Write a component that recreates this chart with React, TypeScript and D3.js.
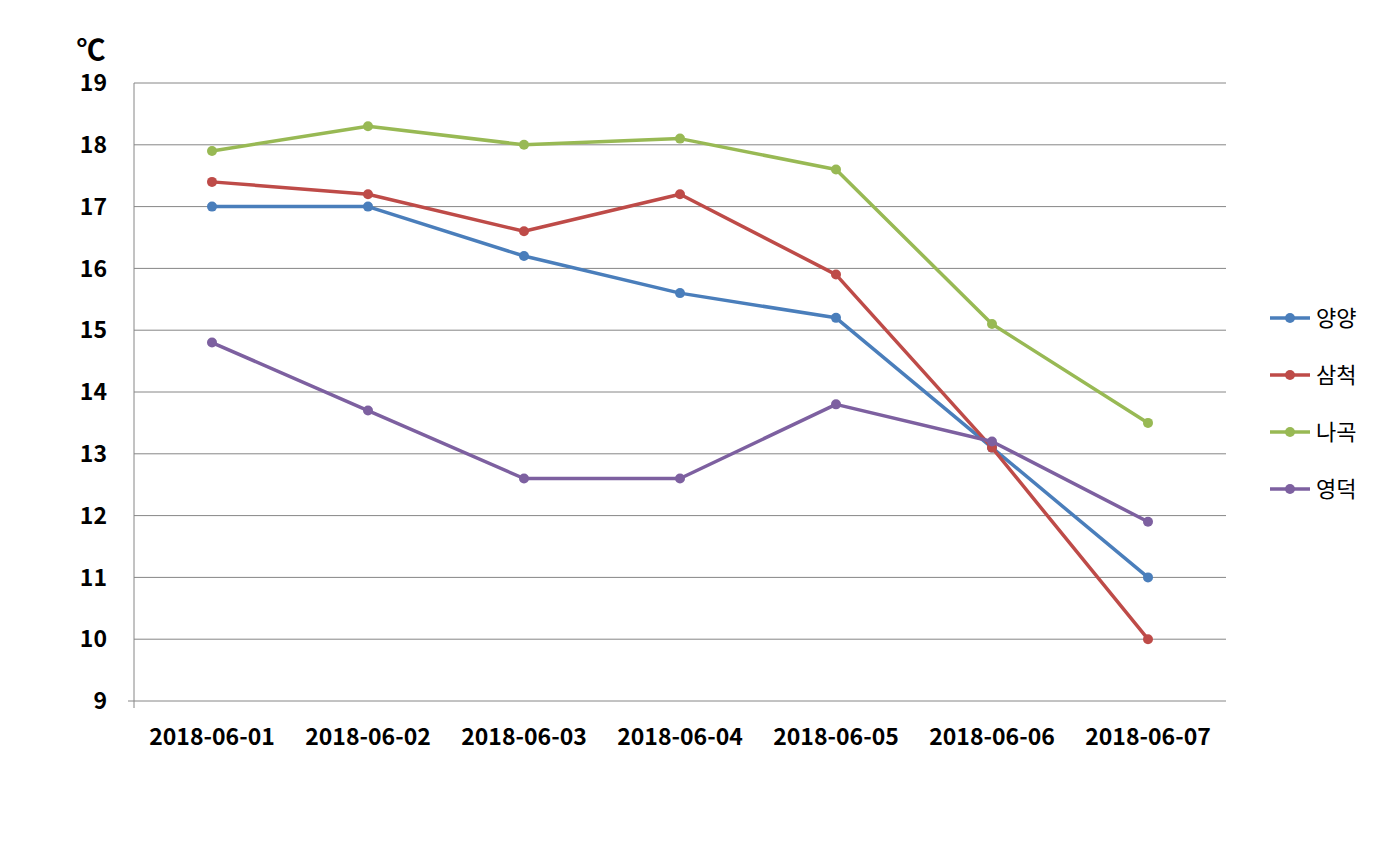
import React from "react";
import * as d3 from "d3";

const categories = ["2018-06-01", "2018-06-02", "2018-06-03", "2018-06-04", "2018-06-05", "2018-06-06", "2018-06-07"];
const seriesNames = ["양양", "삼척", "나곡", "영덕"];
const yangyang = [17, 17, 16.2, 15.6, 15.2, 13.1, 11];
const samcheok = [17.4, 17.2, 16.6, 17.2, 15.9, 13.1, 10];
const nagok = [17.9, 18.3, 18.0, 18.1, 17.6, 15.1, 13.5];
const yeongdeok = [14.8, 13.7, 12.6, 12.6, 13.8, 13.2, 11.9];
const colors = ["#4a7ebb", "#be4b48", "#98b954", "#7d60a0"];
const yTicks = [9, 10, 11, 12, 13, 14, 15, 16, 17, 18, 19];

export default function App() {
  const W = 1396, H = 863;
  const left = 134, right = 1226, top = 83, bottom = 701;
  const x = d3.scaleBand<string>().domain(categories).range([left, right]);
  const y = d3.scaleLinear().domain([9, 19]).range([bottom, top]);
  const data = [yangyang, samcheok, nagok, yeongdeok];
  const line = d3.line<number>().x((_, i) => x(categories[i])! + x.bandwidth() / 2).y((d) => y(d));
  const font = "'Malgun Gothic', 'Noto Sans CJK KR', sans-serif";
  return (
    <svg width={W} height={H} style={{ position: "absolute", left: 0, top: 0, background: "#fff" }}>
      <rect width={W} height={H} fill="#fff" />
      {yTicks.map((t) => (
        <g key={t}>
          {t > 9 && <line x1={left} x2={right} y1={y(t)} y2={y(t)} stroke="#868686" strokeWidth={1} />}
          <text x={107} y={y(t)} dy="0.36em" textAnchor="end" fontFamily={font} fontWeight="bold" fontSize={23} fill="#000">{t}</text>
        </g>
      ))}
      <line x1={left} x2={left} y1={top} y2={bottom + 7} stroke="#868686" strokeWidth={1} />
      <line x1={left - 6} x2={right} y1={bottom} y2={bottom} stroke="#868686" strokeWidth={1} />
      <text x={91} y={61} textAnchor="middle" fontFamily={font} fontWeight="bold" fontSize={29} fill="#000">℃</text>
      {categories.map((c) => (
        <text key={c} x={x(c)! + x.bandwidth() / 2} y={745} textAnchor="middle" fontFamily={font} fontWeight="bold" fontSize={23} fill="#000">{c}</text>
      ))}
      {data.map((s, si) => (
        <g key={si}>
          <path d={line(s)!} fill="none" stroke={colors[si]} strokeWidth={3.5} strokeLinejoin="round" />
          {s.map((v, i) => (
            <circle key={i} cx={x(categories[i])! + x.bandwidth() / 2} cy={y(v)} r={5} fill={colors[si]} />
          ))}
        </g>
      ))}
      {seriesNames.map((n, i) => {
        const ly = 318 + i * 57;
        return (
          <g key={n}>
            <line x1={1270} x2={1310} y1={ly} y2={ly} stroke={colors[i]} strokeWidth={3.5} />
            <circle cx={1290} cy={ly} r={5} fill={colors[i]} />
            <text x={1316} y={ly} dy="0.36em" fontFamily={font} fontSize={22} fill="#000">{n}</text>
          </g>
        );
      })}
    </svg>
  );
}
